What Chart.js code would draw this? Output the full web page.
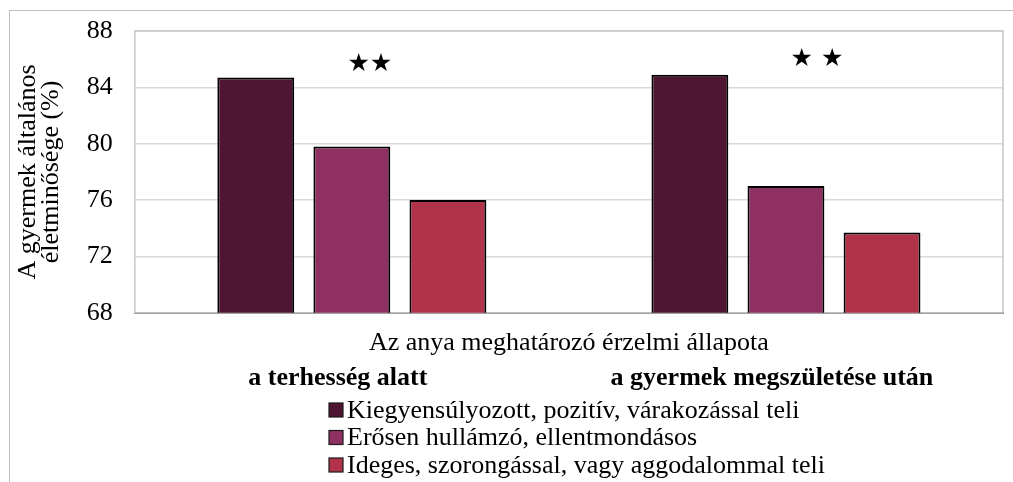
<!DOCTYPE html>
<html>
<head>
<meta charset="utf-8">
<script src="https://cdn.jsdelivr.net/npm/chart.js@4.4.1/dist/chart.umd.min.js"></script>
<style>
  body { margin: 0; background: #fff; }
  #wrap { position: relative; width: 1013px; height: 482px; overflow: hidden; }
  #frame { position: absolute; left: 9px; top: 10px; width: 1100px; height: 600px;
           border-left: 1px solid #bfbfbf; border-top: 1px solid #bfbfbf; }
  canvas { position: absolute; left: 0; top: 0; }
</style>
</head>
<body>
<div id="wrap">
  <div id="frame"></div>
  <canvas id="myChart" width="1013" height="482"></canvas>
</div>
<script>
const categories = ['a terhesség alatt', 'a gyermek megszületése után'];
const seriesNames = [
  'Kiegyensúlyozott, pozitív, várakozással teli',
  'Erősen hullámzó, ellentmondásos',
  'Ideges, szorongással, vagy aggodalommal teli'
];
const balanced = [84.7, 84.9];
const fluctuating = [79.8, 77.0];
const anxious = [76.0, 73.7];
const yTicks = [68, 72, 76, 80, 84, 88];
const starMarks = ['★★', '★ ★'];
const colors = ['#4e1632', '#8e3162', '#b0334a'];

const serif = 'Liberation Serif';
const fs = 26;

// plot area frame (light grey left/top/right)
const frameBox = {
  id: 'frameBox',
  beforeDatasetsDraw(chart) {
    const {ctx, chartArea: a} = chart;
    ctx.save();
    ctx.strokeStyle = '#c8c8c8';
    ctx.lineWidth = 1.5;
    ctx.strokeRect(a.left, a.top, a.right - a.left, a.bottom - a.top);
    ctx.restore();
  }
};

// stars above each group, x axis caption, stacked legend
const extras = {
  id: 'extras',
  afterDraw(chart) {
    const {ctx, chartArea: a} = chart;
    const xs = chart.scales.x, ys = chart.scales.y;
    const shift = [18, 31];
    const starY = [85.65, 85.95];
    ctx.save();
    ctx.fillStyle = '#000';
    ctx.textAlign = 'center';
    ctx.textBaseline = 'middle';
    ctx.font = '25px "DejaVu Sans"';
    starMarks.forEach((s, i) => {
      ctx.fillText(s, xs.getPixelForValue(i) + shift[i], ys.getPixelForValue(starY[i]));
    });

    ctx.font = fs + 'px "' + serif + '"';
    ctx.fillText('Az anya meghatározó érzelmi állapota', (a.left + a.right) / 2, a.bottom + 30);

    // legend
    ctx.textAlign = 'left';
    const lx = 329, ly = 410, row = 27.5, box = 14;
    seriesNames.forEach((name, i) => {
      const y = ly + i * row;
      ctx.fillStyle = colors[i];
      ctx.fillRect(lx, y - box / 2, box, box);
      ctx.strokeStyle = '#1a1a1a';
      ctx.lineWidth = 1.2;
      ctx.strokeRect(lx, y - box / 2, box, box);
      ctx.fillStyle = '#000';
      ctx.fillText(name, lx + box + 4, y + 1);
    });
    ctx.restore();
  }
};

const seriesData = [balanced, fluctuating, anxious];

new Chart(document.getElementById('myChart'), {
  type: 'bar',
  data: {
    labels: categories,
    datasets: seriesNames.map((name, i) => ({
      label: name,
      data: seriesData[i],
      backgroundColor: colors[i],
      borderColor: '#000',
      borderWidth: 2,
      categoryPercentage: 0.664,
      barPercentage: 0.8
    }))
  },
  options: {
    responsive: false,
    animation: false,
    layout: { padding: { left: 16, top: 31, right: 10, bottom: 46 } },
    plugins: {
      legend: { display: false },
      tooltip: { enabled: false }
    },
    scales: {
      x: {
        grid: { display: false },
        border: { color: '#000', width: 1.5 },
        ticks: {
          color: '#000',
          font: { family: serif, size: fs, weight: 'bold' },
          padding: 42,
          labelOffset: -14,
          maxRotation: 0
        }
      },
      y: {
        min: 68,
        max: 88,
        afterBuildTicks(scale) { scale.ticks = yTicks.map(v => ({value: v})); },
        afterFit(scale) { scale.paddingTop = 0; },
        grid: { color: '#d9d9d9', lineWidth: 1.5, drawTicks: false },
        border: { display: false },
        ticks: {
          color: '#000',
          font: { family: serif, size: fs },
          padding: 22
        },
        title: {
          display: true,
          text: ['A gyermek általános', 'életminősége (%)'],
          color: '#000',
          font: { family: serif, size: fs, lineHeight: 0.9 },
          padding: { top: 0, bottom: 2 }
        }
      }
    }
  },
  plugins: [frameBox, extras]
});
</script>
</body>
</html>
